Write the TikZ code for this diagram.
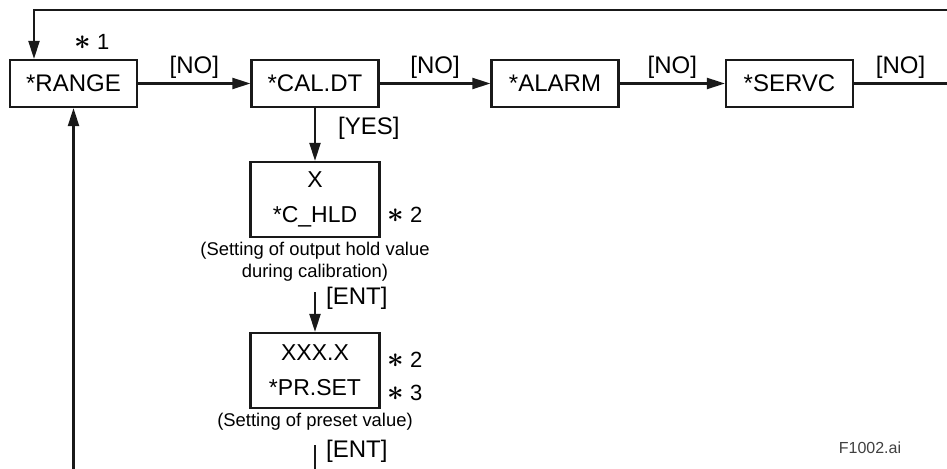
\documentclass[tikz,border=0pt]{standalone}
\usepackage{fontspec}
\setmainfont{Liberation Sans}
\usetikzlibrary{arrows.meta,positioning}

\newcommand{\noteast}{{\fontsize{14.5}{14.5}\selectfont\boldmath$\ast$}}

\tikzset{
  menubox/.style={draw=black!90, line width=1.1pt, minimum width=63.5pt, minimum height=23.5pt,
    inner sep=0pt, font=\fontsize{12}{14}\selectfont},
  setbox/.style={draw=black!90, line width=1.1pt, minimum width=64.5pt, minimum height=37.5pt,
    inner sep=0pt, align=center, font=\fontsize{11.5}{17.5}\selectfont},
  keylbl/.style={font=\fontsize{12}{14}\selectfont, inner sep=2pt},
  note/.style={font=\fontsize{11}{13}\selectfont, inner sep=0pt},
  caption/.style={font=\fontsize{9.2}{11}\selectfont, align=center, inner sep=1pt},
  flow/.style={draw=black!90, line width=1.1pt},
}

\begin{document}
\begin{tikzpicture}[x=0.5pt, y=-0.5pt, >={Triangle[length=9pt,width=5.5pt]}]
  \useasboundingbox (0,0) rectangle (947,469);

  % ==========================================
  % Menu row
  % ==========================================
  \node[menubox] (range) at (73.5,83.5) {*RANGE};
  \node[menubox] (caldt) at (315,83.5)  {*CAL.DT};
  \node[menubox] (alarm) at (555,83.5)  {*ALARM};
  \node[menubox] (servc) at (789.5,83.5) {*SERVC};

  \node[note] (n1) at (92,42) {\noteast\ 1};

  % open ends of the loop lines
  \coordinate (loopR) at (947,10);
  \coordinate (loopL) at (34,10);
  \coordinate (exitR) at (947,83.5);
  \coordinate (retB)  at (73.5,469);

  \draw[flow,->] (loopR) -- (loopL) -- (loopL |- range.north);
  \draw[flow,->] (range) -- node[keylbl, above] {[NO]} (caldt);
  \draw[flow,->] (caldt) -- node[keylbl, above] {[NO]} (alarm);
  \draw[flow,->] (alarm) -- node[keylbl, above] {[NO]} (servc);
  \draw[flow] (servc) -- node[keylbl, above] {[NO]} (exitR);
  \draw[flow,->] (retB) -- (range);

  % ==========================================
  % Calibration branch
  % ==========================================
  \node[setbox] (chld) at (315,199.5) {X\\*C\_HLD};
  \node[note] (n2) at (405,215) {\noteast\ 2};
  \node[caption, below=1pt of chld] (chldcap) {(Setting of output hold value\\during calibration)};

  \node[setbox] (prset) at (315,370.5) {XXX.X\\*PR.SET};
  \node[note] (n3) at (405,360) {\noteast\ 2};
  \node[note] (n4) at (405,393) {\noteast\ 3};
  \node[caption, below=1pt of prset] (prcap) {(Setting of preset value)};

  \coordinate (entB) at (315,469);

  \draw[flow,->] (caldt) -- node[keylbl, right, pos=0.38, xshift=9pt] {[YES]} (chld);
  \draw[flow,->, shorten <=4pt] (chldcap) -- node[keylbl, right, pos=0.3, xshift=3pt] {[ENT]} (prset);
  \draw[flow, shorten <=6pt] (prcap) -- node[keylbl, right, xshift=3pt] {[ENT]} (entB);

  \node[font=\fontsize{8}{10}\selectfont, text=black!75] (fig) at (870,448) {F1002.ai};

\end{tikzpicture}
\end{document}
